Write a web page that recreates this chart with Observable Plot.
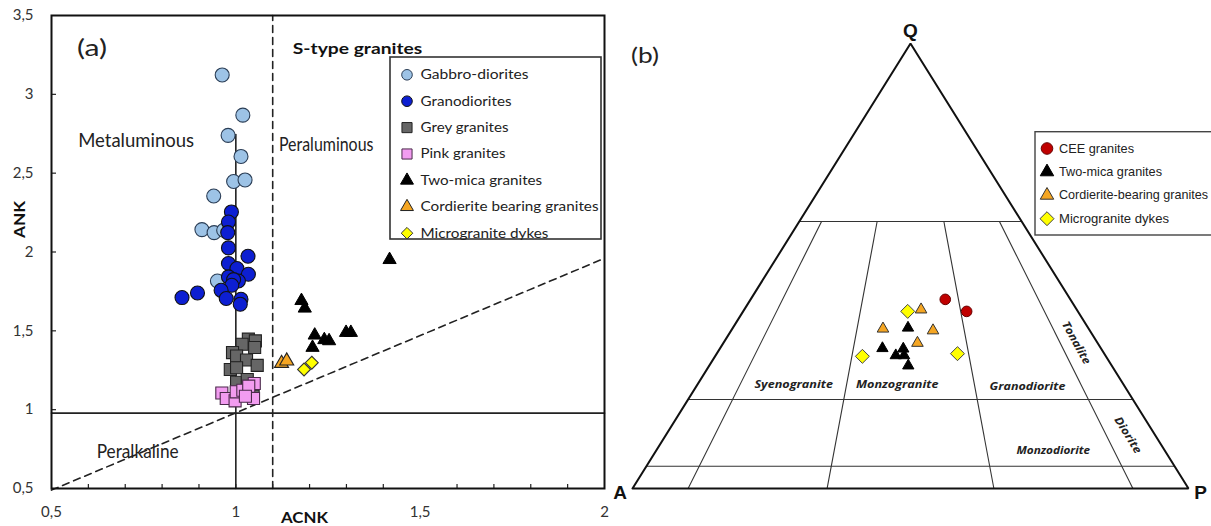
<!DOCTYPE html>
<html><head><meta charset="utf-8">
<script src="https://cdn.jsdelivr.net/npm/d3@7"></script>
<script src="https://cdn.jsdelivr.net/npm/@observablehq/plot@0.6"></script>
<style>
body{margin:0;background:#fff;overflow:hidden}
#wrap{display:flex;width:1211px;height:526px;background:#fff}
#wrap svg{flex:none}
</style></head><body><div id="wrap"></div>
<script>
// ---------- Panel (a): ACNK vs ANK ----------
const gabbroDiorites = [
  [0.963,3.123],[1.019,2.868],[0.979,2.740],[1.014,2.606],[0.994,2.447],[1.025,2.457],
  [0.940,2.355],[0.908,2.142],[0.941,2.123],[0.967,2.138],[0.950,1.816]
];
const granodiorites = [
  [0.988,2.254],[0.980,2.190],[0.978,2.123],[0.980,2.026],[1.033,1.973],[0.980,1.927],
  [1.003,1.895],[1.034,1.859],[0.980,1.842],[1.007,1.816],[0.994,1.825],[0.989,1.789],
  [0.960,1.757],[0.896,1.740],[0.854,1.711],[0.974,1.705],[1.014,1.700],[1.012,1.669]
];
const greyGranites = [
  [1.034,1.447],[1.053,1.436],[1.051,1.394],[1.017,1.415],[0.991,1.362],[1.002,1.340],
  [1.029,1.315],[1.058,1.281],[0.985,1.255],[1.002,1.266],[1.002,1.174],[1.031,1.191],[1.047,1.085]
];
const pinkGranites = [
  [1.050,1.166],[0.962,1.106],[0.974,1.071],[0.998,1.056],[1.001,1.113],[1.019,1.123],
  [1.035,1.149],[1.048,1.071],[1.026,1.085]
];
const twoMicaA = [
  [1.417,1.951],[1.178,1.691],[1.187,1.643],[1.214,1.472],[1.208,1.394],[1.240,1.443],
  [1.253,1.436],[1.299,1.489],[1.312,1.489]
];
const cordieriteA = [[1.124,1.294],[1.138,1.309]];
const microgranitesA = [[1.185,1.255],[1.206,1.298]];

const xTicksA = [0.5, 1, 1.5, 2];
const yTicksA = [0.5, 1, 1.5, 2, 2.5, 3, 3.5];
const xMinorA = [0.6,0.7,0.8,0.9,1.0,1.1,1.2,1.3,1.4,1.6,1.7,1.8,1.9];

const aciBoundary = [[1, 0.5], [1, 2.745]];          // solid vertical A/CNK = 1
const ankBoundary = [[0.5, 0.978], [2, 0.978]];      // solid horizontal A/NK = 1
const sTypeBoundary = [[1.1, 0.5], [1.1, 3.5]];      // dashed A/CNK = 1.1
const peralkBoundary = [[0.5, 0.49], [2, 1.96]];     // dashed diagonal

const regionLabelsA = [
  {x: 0.7296, y: 2.702, text: "Metaluminous"},
  {x: 1.2451, y: 2.677, text: "Peraluminous"},
  {x: 0.7337, y: 0.732, text: "Peralkaline"}
];

const legendA = [
  {label: "Gabbro-diorites", symbol: "circle", fill: "#9dc3e6", stroke: "#2a3d55"},
  {label: "Granodiorites", symbol: "circle", fill: "#0d1fd2", stroke: "#111"},
  {label: "Grey granites", symbol: "square", fill: "#666666", stroke: "#222"},
  {label: "Pink granites", symbol: "square", fill: "#f29cf0", stroke: "#4a2a4a"},
  {label: "Two-mica granites", symbol: "triangle", fill: "#000", stroke: "#000"},
  {label: "Cordierite bearing granites", symbol: "triangle", fill: "#f5a623", stroke: "#222"},
  {label: "Microgranite dykes", symbol: "diamond2", fill: "#ffff00", stroke: "#333"}
];

// ---------- Panel (b): QAP ternary, [Q, A, P] in % ----------
const ceeGranites = [[42.5,22.5,35.0],[39.8,20.0,40.2]];
const twoMicaB = [[36.1,32.4,31.5],[31.5,39.3,29.2],[29.9,37.7,32.4],[31.4,35.6,33.0],[29.9,36.2,33.9],[27.6,36.6,35.8]];
const cordieriteB = [[40.2,28.0,31.8],[35.9,37.0,27.1],[35.5,28.2,36.3],[32.7,32.4,34.9]];
const microgranitesB = [[39.8,30.6,29.6],[29.7,43.8,26.5],[30.3,26.4,43.3]];

const qLevels = [60, 20, 5];            // horizontal field boundaries (Q %)
const pRatios = [10, 35, 65, 90];       // 100*P/(A+P) field boundaries
const vertices = [{n:"A", t:[0,100,0]}, {n:"P", t:[0,0,100]}, {n:"Q", t:[100,0,0]}];

const fieldLabelsB = [
  {t:[23.46,59.28,17.26], text:"Syenogranite", rotate:0},
  {t:[23.46,40.66,35.88], text:"Monzogranite", rotate:0},
  {t:[22.92,17.50,59.58], text:"Granodiorite", rotate:0},
  {t:[8.61,20.02,71.37], text:"Monzodiorite", rotate:0},
  {t:[32.74,3.83,63.43], text:"Tonalite", rotate:61},
  {t:[12.0,4.9,83.1], text:"Diorite", rotate:58}
];

const legendB = [
  {label: "CEE granites", symbol: "circle", fill: "#c00000", stroke: "#600", r: 5.8},
  {label: "Two-mica granites", symbol: "triangle", fill: "#000", stroke: "#000", r: 5},
  {label: "Cordierite-bearing granites", symbol: "triangle", fill: "#f5a623", stroke: "#333", r: 5},
  {label: "Microgranite dykes", symbol: "diamond2", fill: "#ffff00", stroke: "#444", r: 6.3}
];

// ---------- helpers ----------
const comma = d => String(d).replace(".", ",");
const toXY = ([q, a, p]) => { const s = q + a + p; return {x: 100 * (p + q / 2) / s, y: 100 * q / s}; };

// layout mappings (same as the plots' scales) used only to place legends/titles
const xa = d3.scaleLinear([0.5, 2], [51, 604]);
const ya = d3.scaleLinear([0.5, 3.5], [488, 15]);
const xb = d3.scaleLinear([0, 100], [22, 578]);
const yb = d3.scaleLinear([0, 100], [488, 43]);

const fa = "Lato, 'Open Sans', sans-serif";
const dash = "7,5";

// ---------- Plot (a) ----------
const legendMarksA = [
  Plot.rect([0], {x1: xa.invert(390), x2: xa.invert(601), y1: ya.invert(57), y2: ya.invert(239),
    fill: "white", stroke: "#333", strokeWidth: 1.6})
];
legendA.forEach((d, i) => {
  const py = 74.3 + 26.4 * i;
  const r = d.symbol === "circle" ? 5.3 : d.symbol === "square" ? 5.7 : d.symbol === "triangle" ? 4.8 : 5.2;
  legendMarksA.push(Plot.dot([d], {x: xa.invert(406.5), y: ya.invert(py), symbol: d.symbol, r,
    fill: d.fill, stroke: d.stroke, strokeWidth: 1}));
  legendMarksA.push(Plot.text([d], {x: xa.invert(420), y: ya.invert(py), text: "label",
    textAnchor: "start", fontSize: 14, fontFamily: fa, fill: "#222"}));
});

const plotA = Plot.plot({
  width: 610, height: 526,
  marginLeft: 51, marginRight: 6, marginTop: 15, marginBottom: 38,
  x: {domain: [0.5, 2]},
  y: {domain: [0.5, 3.5]},
  style: {fontFamily: fa, background: "white", overflow: "visible"},
  marks: [
    Plot.axisX(xTicksA, {tickSize: 0, tickPadding: 18, fontSize: 15, tickFormat: comma, label: null, fill: "#333"}),
    Plot.axisY(yTicksA, {tickSize: 0, tickPadding: 18, fontSize: 15, tickFormat: comma, label: null, fill: "#333"}),
    Plot.tickX(xMinorA, {x: d => d, insetTop: 469, stroke: "#222", strokeWidth: 1.2}),
    Plot.tickY(yTicksA.slice(1, -1), {y: d => d, insetRight: 548, stroke: "#222", strokeWidth: 1.2}),
    Plot.line(ankBoundary, {stroke: "#222", strokeWidth: 1.6}),
    Plot.line(aciBoundary, {stroke: "#222", strokeWidth: 1.6}),
    Plot.line(sTypeBoundary, {stroke: "#222", strokeWidth: 1.6, strokeDasharray: dash}),
    Plot.line(peralkBoundary, {stroke: "#222", strokeWidth: 1.6, strokeDasharray: dash}),
    Plot.dot(gabbroDiorites, {r: 7, fill: "#9dc3e6", stroke: "#2a3d55", strokeWidth: 1.1}),
    Plot.dot(granodiorites, {r: 7, fill: "#0d1fd2", stroke: "#111", strokeWidth: 1.1}),
    Plot.dot(greyGranites, {symbol: "square", r: 6.8, fill: "#666666", stroke: "#222", strokeWidth: 1.1}),
    Plot.dot(pinkGranites, {symbol: "square", r: 6.8, fill: "#f29cf0", stroke: "#4a2a4a", strokeWidth: 1.1}),
    Plot.dot(twoMicaA, {symbol: "triangle", r: 4.9, fill: "#000", stroke: "#000", strokeWidth: 1}),
    Plot.dot(cordieriteA, {symbol: "triangle", r: 5.2, fill: "#f5a623", stroke: "#222", strokeWidth: 1.1}),
    Plot.dot(microgranitesA, {symbol: "diamond2", r: 5.8, fill: "#ffff00", stroke: "#333", strokeWidth: 1.1}),
    Plot.text(regionLabelsA, {x: "x", y: "y", text: "text", fontSize: 19, fontFamily: fa, fill: "#222"}),
    Plot.text(["S-type granites"], {x: xa.invert(357), y: ya.invert(48), text: d => d, fontSize: 16, fontWeight: "bold", fontFamily: fa, fill: "#111"}),
    Plot.text(["(a)"], {x: xa.invert(91.5), y: ya.invert(48.6), text: d => d, fontSize: 23, fontFamily: fa, fill: "#222"}),
    Plot.text(["ACNK"], {x: xa.invert(304), y: ya.invert(517), text: d => d, fontSize: 16, fontWeight: "bold", fontFamily: fa, fill: "#111"}),
    Plot.text(["ANK"], {x: xa.invert(19.8), y: ya.invert(219), text: d => d, rotate: -90, fontSize: 16, fontWeight: "bold", fontFamily: fa, fill: "#111"}),
    ...legendMarksA,
    Plot.frame({stroke: "#111", strokeWidth: 2})
  ]
});

// ---------- Plot (b) ----------
const triangleOutline = [vertices[0], vertices[1], vertices[2], vertices[0]].map(v => toXY(v.t));
const fieldLinks = [
  ...qLevels.map(q => ({a: toXY([q, 100 - q, 0]), b: toXY([q, 0, 100 - q])})),
  ...pRatios.map(r => ({a: toXY([0, 100 - r, r]), b: toXY([60, 40 * (1 - r / 100), 40 * r / 100])}))
];
const fb = "'Liberation Sans', Arial, sans-serif";

const legendMarksB = [
  Plot.rect([0], {x1: xb.invert(425), x2: xb.invert(640), y1: yb.invert(131.7), y2: yb.invert(235),
    fill: "white", stroke: "#444", strokeWidth: 1.4})
];
legendB.forEach((d, i) => {
  const py = 148 + 23.4 * i;
  legendMarksB.push(Plot.dot([d], {x: xb.invert(436.5), y: yb.invert(py), symbol: d.symbol, r: d.r,
    fill: d.fill, stroke: d.stroke, strokeWidth: 1}));
  legendMarksB.push(Plot.text([d], {x: xb.invert(448.5), y: yb.invert(py), text: "label",
    textAnchor: "start", fontSize: 13, fontFamily: fb, fill: "#222"}));
});

const vertexOffsets = {A: [-12.5, 4], P: [12, 4], Q: [0, -13]};

const plotB = Plot.plot({
  width: 601, height: 526, margin: 0,
  x: {domain: [0, 100], range: [22, 578], axis: null},
  y: {domain: [0, 100], range: [488, 43], axis: null},
  style: {fontFamily: fb, background: "white"},
  marks: [
    Plot.link(fieldLinks, {x1: d => d.a.x, y1: d => d.a.y, x2: d => d.b.x, y2: d => d.b.y, stroke: "#333", strokeWidth: 1.1}),
    Plot.line(triangleOutline, {x: "x", y: "y", stroke: "#111", strokeWidth: 2, strokeLinejoin: "miter"}),
    Plot.text(fieldLabelsB, {x: d => toXY(d.t).x, y: d => toXY(d.t).y, text: "text", rotate: "rotate",
      fontSize: 11, fontWeight: "bold", fontStyle: "italic", fontFamily: "'Open Sans', sans-serif", fill: "#222"}),
    ...vertices.map(v => Plot.text([v], {x: toXY(v.t).x, y: toXY(v.t).y, text: "n",
      dx: vertexOffsets[v.n][0], dy: vertexOffsets[v.n][1], fontSize: 19, fontWeight: "bold", fontFamily: fb, fill: "#111"})),
    Plot.dot(ceeGranites.map(toXY), {x: "x", y: "y", r: 5.3, fill: "#c00000", stroke: "#600", strokeWidth: 1}),
    Plot.dot(twoMicaB.map(toXY), {x: "x", y: "y", symbol: "triangle", r: 4.2, fill: "#000", stroke: "#000", strokeWidth: 1}),
    Plot.dot(cordieriteB.map(toXY), {x: "x", y: "y", symbol: "triangle", r: 4.3, fill: "#f5a623", stroke: "#333", strokeWidth: 1}),
    Plot.dot(microgranitesB.map(toXY), {x: "x", y: "y", symbol: "diamond2", r: 6.3, fill: "#ffff00", stroke: "#444", strokeWidth: 1}),
    Plot.text(["(b)"], {x: xb.invert(34.5), y: yb.invert(55.4), text: d => d, fontSize: 22, fontFamily: fa, fill: "#222"}),
    ...legendMarksB
  ]
});

// fit text widths to the reference's typeface metrics
const widths = {
  "Metaluminous": 116, "Peraluminous": 94.5, "Peralkaline": 82, "S-type granites": 129.5, "(a)": 30,
  "Gabbro-diorites": 108, "Granodiorites": 91, "Grey granites": 88, "Pink granites": 85,
  "Two-mica granites": 121.7, "Cordierite bearing granites": 178, "Microgranite dykes": 128,
  "ACNK": 47, "ANK": 37
};
const widthsB = {
  "Syenogranite": 78.6, "Monzogranite": 82.4, "Granodiorite": 75.9, "Monzodiorite": 73.6,
  "Tonalite": 47, "Diorite": 41, "(b)": 28,
  "CEE granites": 75, "Two-mica granites": 103, "Cordierite-bearing granites": 149, "Microgranite dykes": 110
};
function fit(svg, map) {
  svg.querySelectorAll("text").forEach(t => {
    const s = t.textContent;
    if (map[s] != null) { t.setAttribute("textLength", map[s]); t.setAttribute("lengthAdjust", "spacingAndGlyphs"); }
  });
}
fit(plotA, widths);
fit(plotB, widthsB);

document.getElementById("wrap").append(plotA, plotB);
</script></body></html>
